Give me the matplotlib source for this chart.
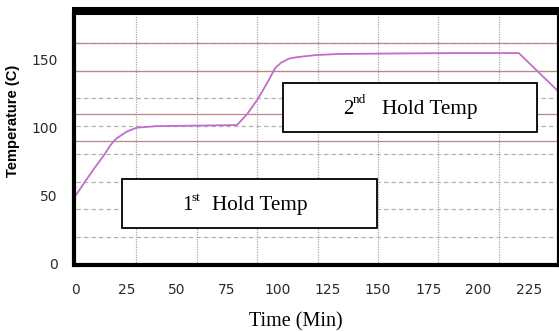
import numpy as np
import matplotlib
matplotlib.use("Agg")
import matplotlib.pyplot as plt
from matplotlib.patches import Rectangle

# ---- data ----
time_min = [0, 4, 9, 14, 17, 20, 25, 30, 40, 60, 80, 85, 90, 95, 99, 102, 106, 110, 119, 130, 160, 190, 210, 220, 240]
temp_c = [50.5, 59.3, 70, 80, 87, 92, 97, 100, 101.2, 101.6, 102, 110, 120.4, 133, 144, 148, 151, 152, 153.5, 154.3, 154.7, 155, 155, 155, 126.3]
limit_lines = [90, 110, 142.1, 162.6]
x_ticks = [0, 25, 50, 75, 100, 125, 150, 175, 200, 225]
y_ticks = [0, 50, 100, 150]
xlabel = "Time (Min)"
ylabel = "Temperature (C)"
box1_parts = ["1", "st", "Hold Temp"]
box2_parts = ["2", "nd", "Hold Temp"]

W, H = 559, 332
fig = plt.figure(figsize=(W / 100, H / 100), dpi=100)
fig.patch.set_facecolor("white")

def fx(x):
    return x / W

def fy(y):
    return 1 - y / H

left, right, top, bottom = 76, 559, 15, 265
ax = fig.add_axes([fx(left), fy(bottom), fx(right) - fx(left), fy(top) - fy(bottom)])
ax.set_xlim(0, 240)
ax.set_ylim(-1, 183)
ax.set_facecolor("white")

# grid
for gx in np.arange(30, 240, 30):
    ax.axvline(gx, color="#a8a8a8", lw=0.9, linestyle=(0, (1, 1)), zorder=1)
for gy in np.linspace(-1, 183, 10)[1:-1]:
    ax.axhline(gy, color="#b0b0b0", lw=0.9, linestyle=(0, (3.5, 2.5)), zorder=1)
for ly in limit_lines:
    ax.axhline(ly, color="#b98585", lw=0.9, zorder=2)

ax.plot(time_min, temp_c, color="#c46ccc", lw=1.3, zorder=3)

ax.set_xticks(x_ticks)
ax.set_yticks(y_ticks)
ax.tick_params(length=0, labelsize=10, colors="#2a2a2a", pad=12)
for lab in ax.get_xticklabels() + ax.get_yticklabels():
    lab.set_fontfamily("Liberation Sans")
ax.tick_params(axis="x", pad=13)

# frame
ax.spines["top"].set_linewidth(5.8)
ax.spines["top"].set_position(("outward", 2.9))
ax.spines["left"].set_linewidth(3.0)
ax.spines["left"].set_position(("outward", 1.4))
ax.spines["bottom"].set_linewidth(3.0)
ax.spines["right"].set_linewidth(3.0)
for s in ax.spines.values():
    s.set_color("black")
    s.set_zorder(5)

# axis labels
fig.text(fx(296), fy(322), xlabel, family="Liberation Serif", fontsize=14.5,
         ha="center", va="center")
fig.text(fx(13), fy(121), ylabel, family="Liberation Sans", fontweight="bold",
         fontsize=10.5, rotation=90, ha="center", va="center")

# boxes
def add_box(x0, y0, x1, y1):
    r = Rectangle((fx(x0), fy(y1)), fx(x1) - fx(x0), fy(y0) - fy(y1),
                  transform=fig.transFigure, facecolor="white",
                  edgecolor="black", lw=1.3, zorder=6)
    fig.add_artist(r)

add_box(122, 179, 377, 228)
add_box(283, 83, 537, 132)

def add_label(parts, xnum, xsup, xtxt, base, supbase):
    fig.text(fx(xnum), fy(base), parts[0], family="Liberation Serif", fontsize=15,
             ha="left", va="baseline", zorder=7)
    fig.text(fx(xsup), fy(supbase), parts[1], family="Liberation Serif", fontsize=9.5,
             ha="left", va="baseline", zorder=7)
    fig.text(fx(xtxt), fy(base), parts[2], family="Liberation Serif", fontsize=15.3,
             ha="left", va="baseline", zorder=7)

add_label(box1_parts, 182, 191, 212, 210, 201)
add_label(box2_parts, 343, 353, 382, 114, 103)

fig.savefig("out.png", dpi=100, facecolor="white")
